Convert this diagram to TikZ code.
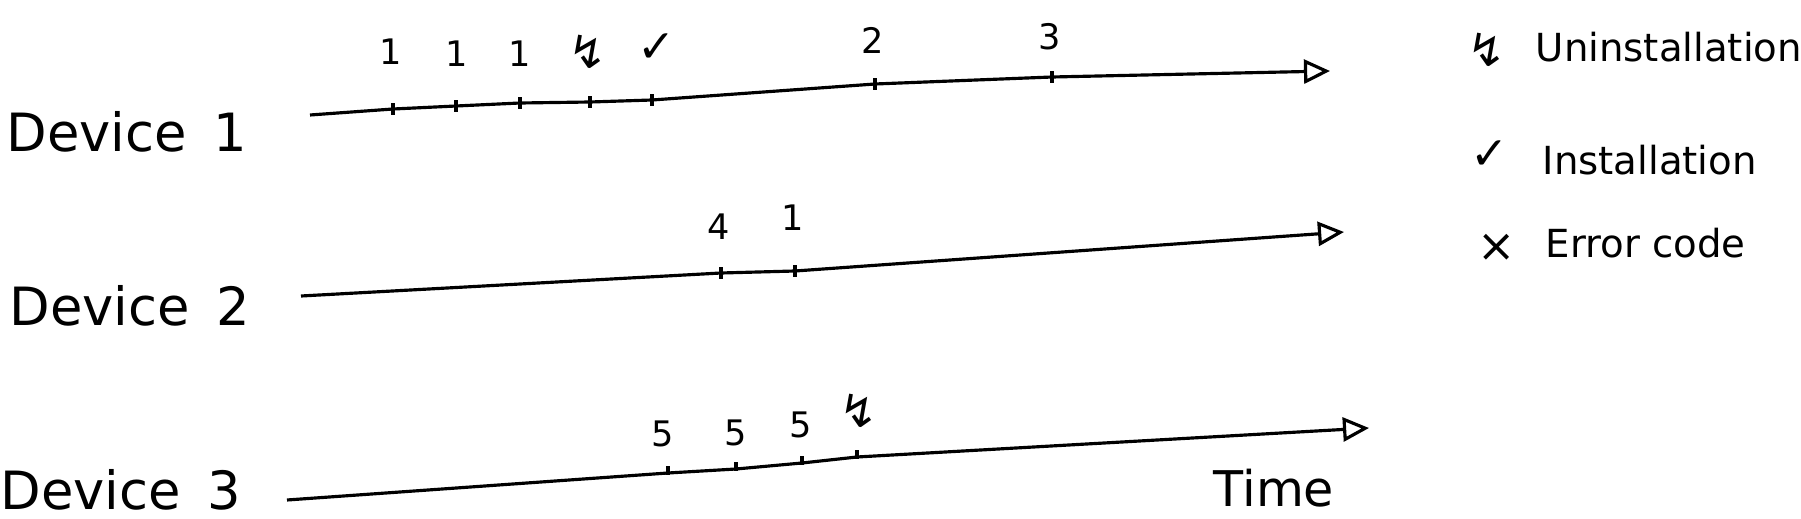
\documentclass[tikz,border=0pt]{standalone}
\usepackage{fontspec}
\setmainfont{DejaVu Sans}
\usetikzlibrary{arrows.meta}
\begin{document}
\begin{tikzpicture}[x=0.1mm,y=-0.1mm,
  timeline/.style={line width=0.9pt,-{Triangle[open,length=2.6mm,width=2.4mm,line width=0.9pt]},line join=round},
  tickmark/.style={line width=0.9pt},
  devlabel/.style={anchor=west,inner sep=0pt,font=\fontsize{15}{18}\selectfont},
  evlabel/.style={inner sep=0pt,font=\fontsize{10}{12}\selectfont},
  legsym/.style={inner sep=0pt,font=\fontsize{13}{15}\selectfont},
  legtext/.style={anchor=west,inner sep=0pt,font=\fontsize{11}{13}\selectfont}]
\useasboundingbox (0,0) rectangle (1801,519);

% Device 1
\node[devlabel] (dev1) at (6,132) {Device\enspace 1};
\coordinate (a0) at (310,115);
\coordinate (a1) at (393,109);
\coordinate (a2) at (456,106);
\coordinate (a3) at (520,103);
\coordinate (a4) at (590,102);
\coordinate (a5) at (652,100);
\coordinate (a6) at (875,84);
\coordinate (a7) at (1052,77);
\coordinate (a8) at (1330,71);
\draw[timeline] (a0) -- (a1) -- (a2) -- (a3) -- (a4) -- (a5) -- (a6) -- (a7) -- (a8);
\foreach \c in {a1,a2,a3,a4,a5,a6,a7}
  \draw[tickmark] ([yshift=0.6mm]\c) -- ([yshift=-0.6mm]\c);
\node[evlabel] (l1) at (391,52) {1};
\node[evlabel] (l2) at (457,54) {1};
\node[evlabel] (l3) at (520,54) {1};
\node[legsym] (l4) at (588,52) {↯};
\node[legsym] (l5) at (657,48) {✓};
\node[evlabel] (l6) at (873,40) {2};
\node[evlabel] (l7) at (1050,37) {3};

% Device 2
\node[devlabel] (dev2) at (9,306) {Device\enspace 2};
\coordinate (b0) at (301,296);
\coordinate (b1) at (721,273);
\coordinate (b2) at (795,271);
\coordinate (b3) at (1344,232);
\draw[timeline] (b0) -- (b1) -- (b2) -- (b3);
\foreach \c in {b1,b2}
  \draw[tickmark] ([yshift=0.6mm]\c) -- ([yshift=-0.6mm]\c);
\node[evlabel] (m1) at (719,227) {4};
\node[evlabel] (m2) at (793,218) {1};

% Device 3
\node[devlabel] (dev3) at (0,490) {Device\enspace 3};
\coordinate (c0) at (287,500);
\coordinate (c1) at (668,473);
\coordinate (c2) at (736,469);
\coordinate (c3) at (802,463);
\coordinate (c4) at (857,457);
\coordinate (c5) at (1369,428);
\draw[timeline] (c0) -- (c1) -- (c2) -- (c3) -- (c4) -- (c5);
\foreach \c in {c1,c2,c3,c4}
  \draw[tickmark] ([yshift=0.7mm]\c) -- ([yshift=-0.2mm]\c);
\node[evlabel] (n1) at (663,434) {5};
\node[evlabel] (n2) at (736,433) {5};
\node[evlabel] (n3) at (801,425) {5};
\node[legsym] (n4) at (859,411) {↯};

\node[inner sep=0pt,font=\fontsize{14}{16}\selectfont] (time) at (1274,488) {Time};

% Legend
\node[legsym] (s1) at (1487,50) {↯};
\node[legtext] (t1) at (1535,47) {Uninstallation};
\node[legsym] (s2) at (1490,155) {✓};
\node[legtext] (t2) at (1542,160) {Installation};
\node[legsym] (s3) at (1497,248) {×};
\node[legtext] (t3) at (1545,243) {Error code};
\end{tikzpicture}
\end{document}
